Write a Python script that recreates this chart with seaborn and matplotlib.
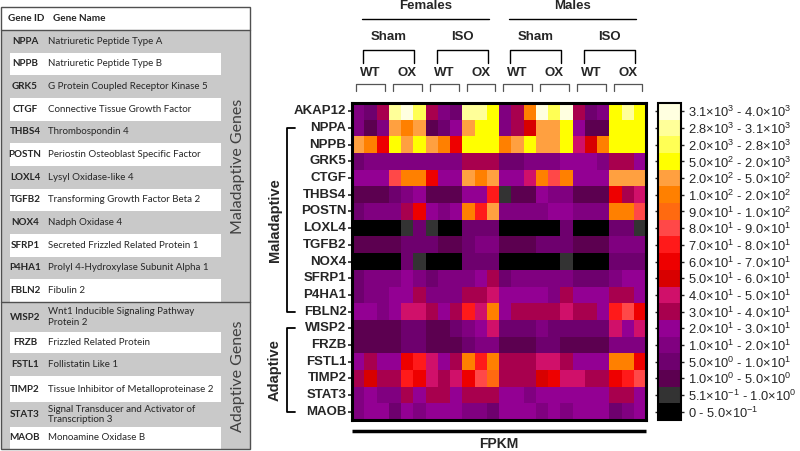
import numpy as np
import pandas as pd
import matplotlib
matplotlib.use("Agg")
import matplotlib.pyplot as plt
import matplotlib.transforms as mtrans
from matplotlib.colors import ListedColormap, BoundaryNorm
from matplotlib.patches import Rectangle
import seaborn as sns

# ---- data (FPKM, 3 replicates per group) ----
genes = ["AKAP12", "NPPA", "NPPB", "GRK5", "CTGF", "THBS4", "POSTN", "LOXL4",
         "TGFB2", "NOX4", "SFRP1", "P4HA1", "FBLN2", "WISP2", "FRZB", "FSTL1",
         "TIMP2", "STAT3", "MAOB"]

sexes = ["Females", "Males"]
treatments = ["Sham", "ISO"]
genotypes = ["WT", "OX"]
n_rep = 3

fpkm = [
    [15, 7, 35, 2950, 3500, 2400, 35, 15, 7, 2950, 2950, 1200, 15, 35, 150, 3500, 2400, 3500, 35, 7, 15, 1200, 2950, 1200],
    [15, 3, 15, 350, 150, 350, 3, 7, 25, 350, 1200, 1200, 15, 35, 55, 350, 350, 1200, 25, 3, 3, 1200, 1200, 1200],
    [350, 150, 65, 1200, 350, 1200, 350, 150, 65, 1200, 1200, 1200, 150, 350, 1200, 350, 350, 1200, 45, 55, 150, 1200, 1200, 1200],
    [7, 15, 15, 15, 15, 15, 15, 15, 15, 35, 35, 35, 7, 7, 15, 15, 15, 25, 25, 25, 15, 35, 35, 25],
    [25, 25, 25, 85, 150, 150, 65, 25, 25, 350, 150, 350, 25, 25, 45, 150, 85, 150, 25, 25, 25, 350, 350, 350],
    [3, 3, 3, 7, 15, 25, 3, 3, 3, 25, 25, 75, 0.8, 3, 3, 25, 15, 15, 3, 3, 3, 65, 35, 45],
    [7, 15, 15, 15, 35, 65, 25, 15, 25, 150, 75, 350, 15, 15, 15, 15, 25, 25, 15, 15, 15, 150, 150, 85],
    [0.2, 0.2, 0.2, 0.2, 0.8, 7, 0.8, 0.2, 0.2, 7, 7, 7, 0.2, 0.2, 0.2, 0.2, 0.2, 7, 0.2, 0.2, 0.2, 7, 7, 0.8],
    [3, 3, 3, 3, 7, 7, 7, 3, 3, 7, 15, 15, 3, 3, 3, 7, 7, 7, 3, 3, 3, 15, 15, 15],
    [0.2, 0.2, 0.2, 0.2, 7, 0.8, 0.2, 0.2, 0.2, 7, 7, 7, 0.2, 0.2, 0.2, 0.2, 0.2, 0.8, 0.2, 0.2, 0.2, 7, 7, 7],
    [7, 15, 15, 15, 25, 15, 7, 15, 15, 15, 25, 35, 7, 15, 15, 15, 15, 15, 7, 7, 7, 15, 25, 25],
    [7, 15, 15, 25, 25, 35, 15, 15, 15, 35, 35, 45, 25, 25, 25, 25, 15, 35, 25, 25, 25, 35, 35, 25],
    [25, 25, 15, 25, 45, 45, 35, 25, 35, 75, 45, 150, 25, 35, 35, 35, 35, 45, 35, 35, 25, 75, 85, 65],
    [3, 3, 3, 3, 7, 7, 3, 3, 7, 15, 25, 45, 7, 7, 7, 15, 7, 7, 7, 7, 7, 45, 25, 45],
    [3, 3, 3, 3, 7, 7, 3, 3, 3, 7, 15, 15, 3, 3, 3, 7, 7, 3, 3, 3, 3, 15, 15, 15],
    [25, 35, 25, 25, 65, 75, 45, 25, 35, 150, 75, 150, 35, 35, 35, 45, 45, 35, 25, 25, 25, 150, 150, 65],
    [35, 55, 35, 35, 75, 65, 45, 35, 45, 65, 85, 95, 35, 35, 35, 55, 65, 45, 45, 35, 35, 65, 75, 85],
    [15, 25, 15, 15, 35, 25, 35, 35, 25, 35, 35, 35, 25, 25, 15, 25, 25, 25, 25, 25, 25, 35, 35, 25],
    [15, 25, 25, 7, 25, 15, 25, 25, 25, 15, 15, 7, 25, 25, 25, 15, 25, 15, 25, 25, 25, 7, 15, 25],
]

# colour key
bin_edges = [0, 0.5, 1, 5, 10, 20, 30, 40, 50, 60, 70, 80, 90, 100, 200, 500, 2000, 2800, 3100, 4000]
bin_colors = ["#000000", "#333333", "#5c0050", "#6e006e", "#800080", "#930093", "#a8004e",
              "#d0106a", "#d80000", "#ee0000", "#ff1a1a", "#ff4848", "#ff6a10", "#ff8000",
              "#ffa040", "#ffff00", "#ffff55", "#ffff99", "#ffffe0"]
bin_labels = [
    "0 - 5.0×10$^{-1}$", "5.1×10$^{-1}$ - 1.0×10$^{0}$", "1.0×10$^{0}$ - 5.0×10$^{0}$",
    "5.0×10$^{0}$ - 1.0×10$^{1}$", "1.0×10$^{1}$ - 2.0×10$^{1}$", "2.0×10$^{1}$ - 3.0×10$^{1}$",
    "3.0×10$^{1}$ - 4.0×10$^{1}$", "4.0×10$^{1}$ - 5.0×10$^{1}$", "5.0×10$^{1}$ - 6.0×10$^{1}$",
    "6.0×10$^{1}$ - 7.0×10$^{1}$", "7.0×10$^{1}$ - 8.0×10$^{1}$", "8.0×10$^{1}$ - 9.0×10$^{1}$",
    "9.0×10$^{1}$ - 1.0×10$^{2}$", "1.0×10$^{2}$ - 2.0×10$^{2}$", "2.0×10$^{2}$ - 5.0×10$^{2}$",
    "5.0×10$^{2}$ - 2.0×10$^{3}$", "2.0×10$^{3}$ - 2.8×10$^{3}$", "2.8×10$^{3}$ - 3.1×10$^{3}$",
    "3.1×10$^{3}$ - 4.0×10$^{3}$",
]

# gene table on the left
table_ids = genes[1:]
table_names = [
    "Natriuretic Peptide Type A", "Natriuretic Peptide Type B",
    "G Protein Coupled Receptor Kinase 5", "Connective Tissue Growth Factor",
    "Thrombospondin 4", "Periostin Osteoblast Specific Factor", "Lysyl Oxidase-like 4",
    "Transforming Growth Factor Beta 2", "Nadph Oxidase 4", "Secreted Frizzled Related Protein 1",
    "Prolyl 4-Hydroxylase Subunit Alpha 1", "Fibulin 2",
    "Wnt1 Inducible Signaling Pathway\nProtein 2", "Frizzled Related Protein", "Follistatin Like 1",
    "Tissue Inhibitor of Metalloproteinase 2", "Signal Transducer and Activator of\nTranscription 3",
    "Monoamine Oxidase B",
]
n_maladaptive = 12

# ---- style ----
sns.set_style("white")
plt.rcParams["font.family"] = ["Liberation Sans", "DejaVu Sans"]
plt.rcParams["mathtext.fontset"] = "custom"
plt.rcParams["mathtext.rm"] = "Liberation Sans"
plt.rcParams["mathtext.it"] = "Liberation Sans:italic"
plt.rcParams["mathtext.bf"] = "Liberation Sans:bold"

columns = pd.MultiIndex.from_product([sexes, treatments, genotypes, range(n_rep)])
df = pd.DataFrame(fpkm, index=genes, columns=columns)

fig = plt.figure(figsize=(8, 4.51), dpi=100)
ax = fig.add_axes([0.44, 0.0687, 0.3675, 0.7029])
cax = fig.add_axes([0.8225, 0.0687, 0.029, 0.7029])

cmap = ListedColormap(bin_colors)
norm = BoundaryNorm(bin_edges, cmap.N)
sns.heatmap(df, ax=ax, cmap=cmap, norm=norm, cbar_ax=cax,
            cbar_kws={"spacing": "uniform"}, xticklabels=False, yticklabels=True)

ax.set_xlabel("")
ax.set_ylabel("")
ax.set_yticklabels(genes, rotation=0, fontweight="bold", fontsize=9.5)
ax.tick_params(axis="y", length=3, width=1.2, pad=1, left=True)
for s in ax.spines.values():
    s.set_visible(True)
    s.set_linewidth(2.2)
    s.set_color("black")

# colour bar
cb = ax.collections[0].colorbar
mids = [(a + b) / 2 for a, b in zip(bin_edges[:-1], bin_edges[1:])]
cb.set_ticks(mids)
cb.set_ticklabels(bin_labels)
cb.minorticks_off()
cb.outline.set_linewidth(1.5)
cb.outline.set_edgecolor("black")
cax.tick_params(length=4, width=1, labelsize=9.3, pad=3, left=True, right=True,
                direction="inout")

# column headers
tx = mtrans.blended_transform_factory(ax.transData, ax.transAxes)
hdr = dict(fontweight="bold", fontsize=9.5, ha="center", va="center")
for i, sex in enumerate(sexes):
    c = 12 * i + 6
    ax.text(c, 1.306, sex, transform=tx, **hdr)
    ax.plot([c - 5.2, c + 5.2], [1.265, 1.265], transform=tx, color="black", lw=1, clip_on=False)
    for j, trt in enumerate(treatments):
        c2 = 12 * i + 6 * j + 3
        ax.text(c2, 1.208, trt, transform=tx, **hdr)
        ax.plot([c2 - 2.1, c2 - 2.1, c2 + 2.1, c2 + 2.1], [1.126, 1.167, 1.167, 1.126],
                transform=tx, color="black", lw=1, clip_on=False)
        for k, gt in enumerate(genotypes):
            g0 = 12 * i + 6 * j + 3 * k
            ax.text(g0 + 1.5, 1.095, gt, transform=tx, **hdr)
            ax.plot([g0 + 0.35, g0 + 0.35, g0 + 2.7, g0 + 2.7], [1.038, 1.06, 1.06, 1.038],
                    transform=tx, color="#555555", lw=0.9, clip_on=False)

# row group brackets
ty = mtrans.blended_transform_factory(ax.transAxes, ax.transData)
for name, r0, r1 in [("Maladaptive", 1, 12), ("Adaptive", 13, 18)]:
    y0, y1 = r0 + 0.5, r1 + 0.5
    ax.plot([-0.194, -0.221, -0.221, -0.194], [y0, y0, y1, y1], transform=ty,
            color="black", lw=1.3, clip_on=False)
    ax.text(-0.262, (y0 + y1) / 2, name, transform=ty, rotation=90, ha="center",
            va="center", fontweight="bold", fontsize=10.5)

# bottom bar and label
ax.plot([0, 1], [-0.035, -0.035], transform=ax.transAxes, color="black", lw=2.5,
        clip_on=False, solid_capstyle="butt")
ax.text(0.5, -0.075, "FPKM", transform=ax.transAxes, ha="center", va="center",
        fontweight="bold", fontsize=10)

# ---- gene table ----
tab = fig.add_axes([0, 0, 0.315, 1])
tab.set_xlim(0, 252)
tab.set_ylim(451, 0)
tab.axis("off")

tfont = ["Lato", "DejaVu Sans"]
tcol = "#262626"
line_col = "#505050"
row_edges = list(np.linspace(30, 302, n_maladaptive + 1)) + [332, 353, 376, 402, 427, 449]

tab.add_patch(Rectangle((0.5, 30), 249.5, 419, facecolor="#c9c9c9", edgecolor="none"))
tab.add_patch(Rectangle((0.5, 7), 249.5, 23, facecolor="white", edgecolor="none"))
for i, (gid, gname) in enumerate(zip(table_ids, table_names)):
    top, bot = row_edges[i], row_edges[i + 1]
    if i % 2 == 1:
        tab.add_patch(Rectangle((10, top), 211, bot - top, facecolor="white", edgecolor="none"))
    yc = (top + bot) / 2
    tab.text(25, yc, gid, ha="center", va="center", fontweight="bold", fontsize=7.1,
             family=tfont, color=tcol)
    tab.text(48, yc, gname, ha="left", va="center", fontsize=7.0, family=tfont,
             color=tcol, linespacing=1.25)

tab.text(8, 18.5, "Gene ID", ha="left", va="center", fontweight="bold", fontsize=7.2,
         family=tfont, color=tcol)
tab.text(53, 18.5, "Gene Name", ha="left", va="center", fontweight="bold", fontsize=7.2,
         family=tfont, color=tcol)
tab.text(238, 166, "Maladaptive Genes", rotation=90, ha="center", va="center",
         fontsize=11.5, family=tfont, color="#404040")
tab.text(238, 376, "Adaptive Genes", rotation=90, ha="center", va="center",
         fontsize=11.5, family=tfont, color="#404040")

tab.add_patch(Rectangle((0.5, 7), 249.5, 442, facecolor="none", edgecolor=line_col, lw=1))
tab.plot([0.5, 250], [30, 30], color=line_col, lw=1)
tab.plot([0.5, 250], [302, 302], color=line_col, lw=1)

fig.savefig("out.png", dpi=100)
